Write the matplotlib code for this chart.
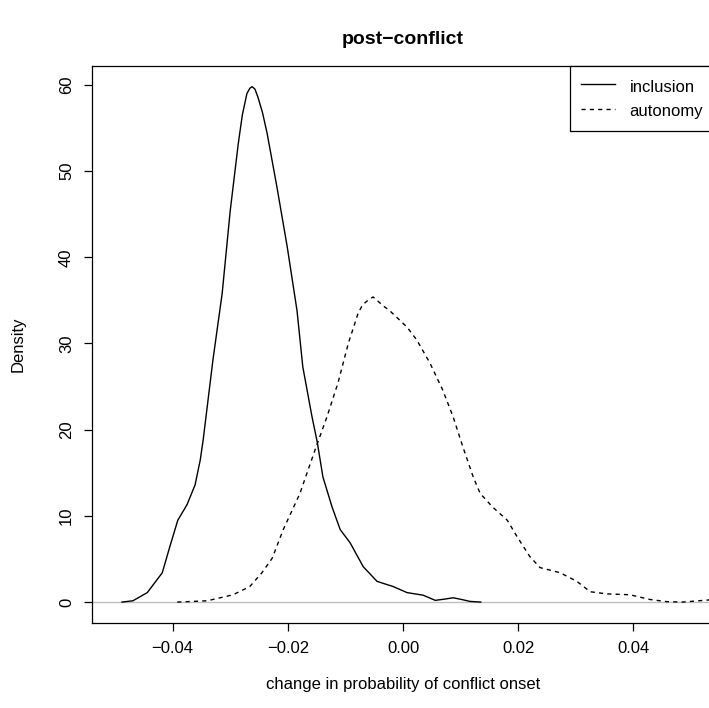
import numpy as np
import matplotlib.pyplot as plt

plt.rcParams['font.family'] = ['Liberation Sans', 'DejaVu Sans']

# density estimates (x = change in probability, y = density)
incl_x = [-0.0488, -0.0469, -0.0444, -0.0418, -0.0405, -0.0391, -0.0375, -0.0361,
          -0.0352, -0.0347, -0.0330, -0.0314, -0.0300, -0.0286, -0.0279, -0.0271,
          -0.0266, -0.0262, -0.0257, -0.0252, -0.0244, -0.0236, -0.0219, -0.0201,
          -0.0184, -0.0174, -0.0158, -0.0149, -0.0139, -0.0123, -0.0109, -0.0092,
          -0.0069, -0.0045, -0.0017, 0.0007, 0.0035, 0.0056, 0.0073, 0.0087,
          0.0102, 0.0116, 0.0135]
incl_y = [0.0, 0.15, 1.1, 3.4, 6.4, 9.5, 11.3, 13.6,
          16.5, 18.8, 28.1, 35.8, 45.4, 53.2, 56.5, 59.0,
          59.6, 59.8, 59.5, 58.6, 56.8, 54.4, 48.2, 41.2,
          33.8, 27.3, 21.5, 18.6, 14.5, 11.0, 8.4, 6.9,
          4.1, 2.4, 1.8, 1.1, 0.8, 0.2, 0.35, 0.5,
          0.3, 0.08, 0.0]

auto_x = [-0.0392, -0.0340, -0.0295, -0.0266, -0.0245, -0.0227, -0.0208, -0.0179,
          -0.0153, -0.0132, -0.0113, -0.0095, -0.0078, -0.0070, -0.0061, -0.0052,
          -0.0045, -0.0035, -0.0023, 0.0007, 0.0024, 0.0047, 0.0069, 0.0087,
          0.0104, 0.0122, 0.0134, 0.0156, 0.0181, 0.0198, 0.0220, 0.0238,
          0.0273, 0.0302, 0.0325, 0.0354, 0.0394, 0.0429, 0.0458, 0.0486,
          0.0531, 0.0570]
auto_y = [0.0, 0.15, 0.85, 1.8, 3.4, 5.1, 8.4, 12.6,
          17.6, 21.5, 25.4, 30.0, 33.5, 34.5, 35.0, 35.4,
          35.0, 34.4, 33.8, 31.9, 30.4, 27.7, 24.6, 21.5,
          18.0, 14.5, 12.6, 11.0, 9.5, 7.6, 5.3, 4.0,
          3.4, 2.4, 1.2, 0.95, 0.85, 0.3, 0.05, 0.0,
          0.25, 0.35]

series_names = ['inclusion', 'autonomy']
x_ticks = [-0.04, -0.02, 0.00, 0.02, 0.04]
y_ticks = [0, 10, 20, 30, 40, 50, 60]

fig = plt.figure(figsize=(7.09, 7.08), dpi=100)
# plot region runs a little past the right edge of the image, as in the reference
ax = fig.add_axes([92 / 709, 85.3 / 708, 622 / 709, 556.7 / 708])

ax.axhline(0, color='#BEBEBE', lw=1.0, zorder=1)
ax.plot(incl_x, incl_y, color='black', lw=1.0, label=series_names[0])
ax.plot(auto_x, auto_y, color='black', lw=1.0, linestyle=(0, (3, 3)),
        label=series_names[1])

ax.set_xlim(-0.054, 0.054)
ymax = max(incl_y)
ax.set_ylim(-0.04 * ymax, 1.04 * ymax)

ax.set_xticks(x_ticks)
ax.set_xticklabels([f'{t:.2f}'.replace('-', '\u2212') for t in x_ticks])
ax.set_yticks(y_ticks)
ax.set_yticklabels([str(t) for t in y_ticks], rotation=90, va='center')
ax.tick_params(direction='out', length=6, width=0.9, labelsize=12, pad=7)

for s in ax.spines.values():
    s.set_linewidth(0.9)

ax.set_title('post\u2212conflict', fontsize=14, fontweight='bold', pad=16)
ax.set_xlabel('change in probability of conflict onset', fontsize=12, labelpad=15)
ax.set_ylabel('Density', fontsize=12, labelpad=24)

leg = ax.legend(loc='upper right', bbox_to_anchor=(1.0, 1.0), borderaxespad=0,
                fancybox=False, edgecolor='black', fontsize=12, handlelength=2.0,
                handleheight=1.4, handletextpad=0.9, borderpad=0.65,
                labelspacing=0.3, framealpha=1)
leg.get_frame().set_linewidth(0.9)

fig.savefig('out.png', dpi=100)
